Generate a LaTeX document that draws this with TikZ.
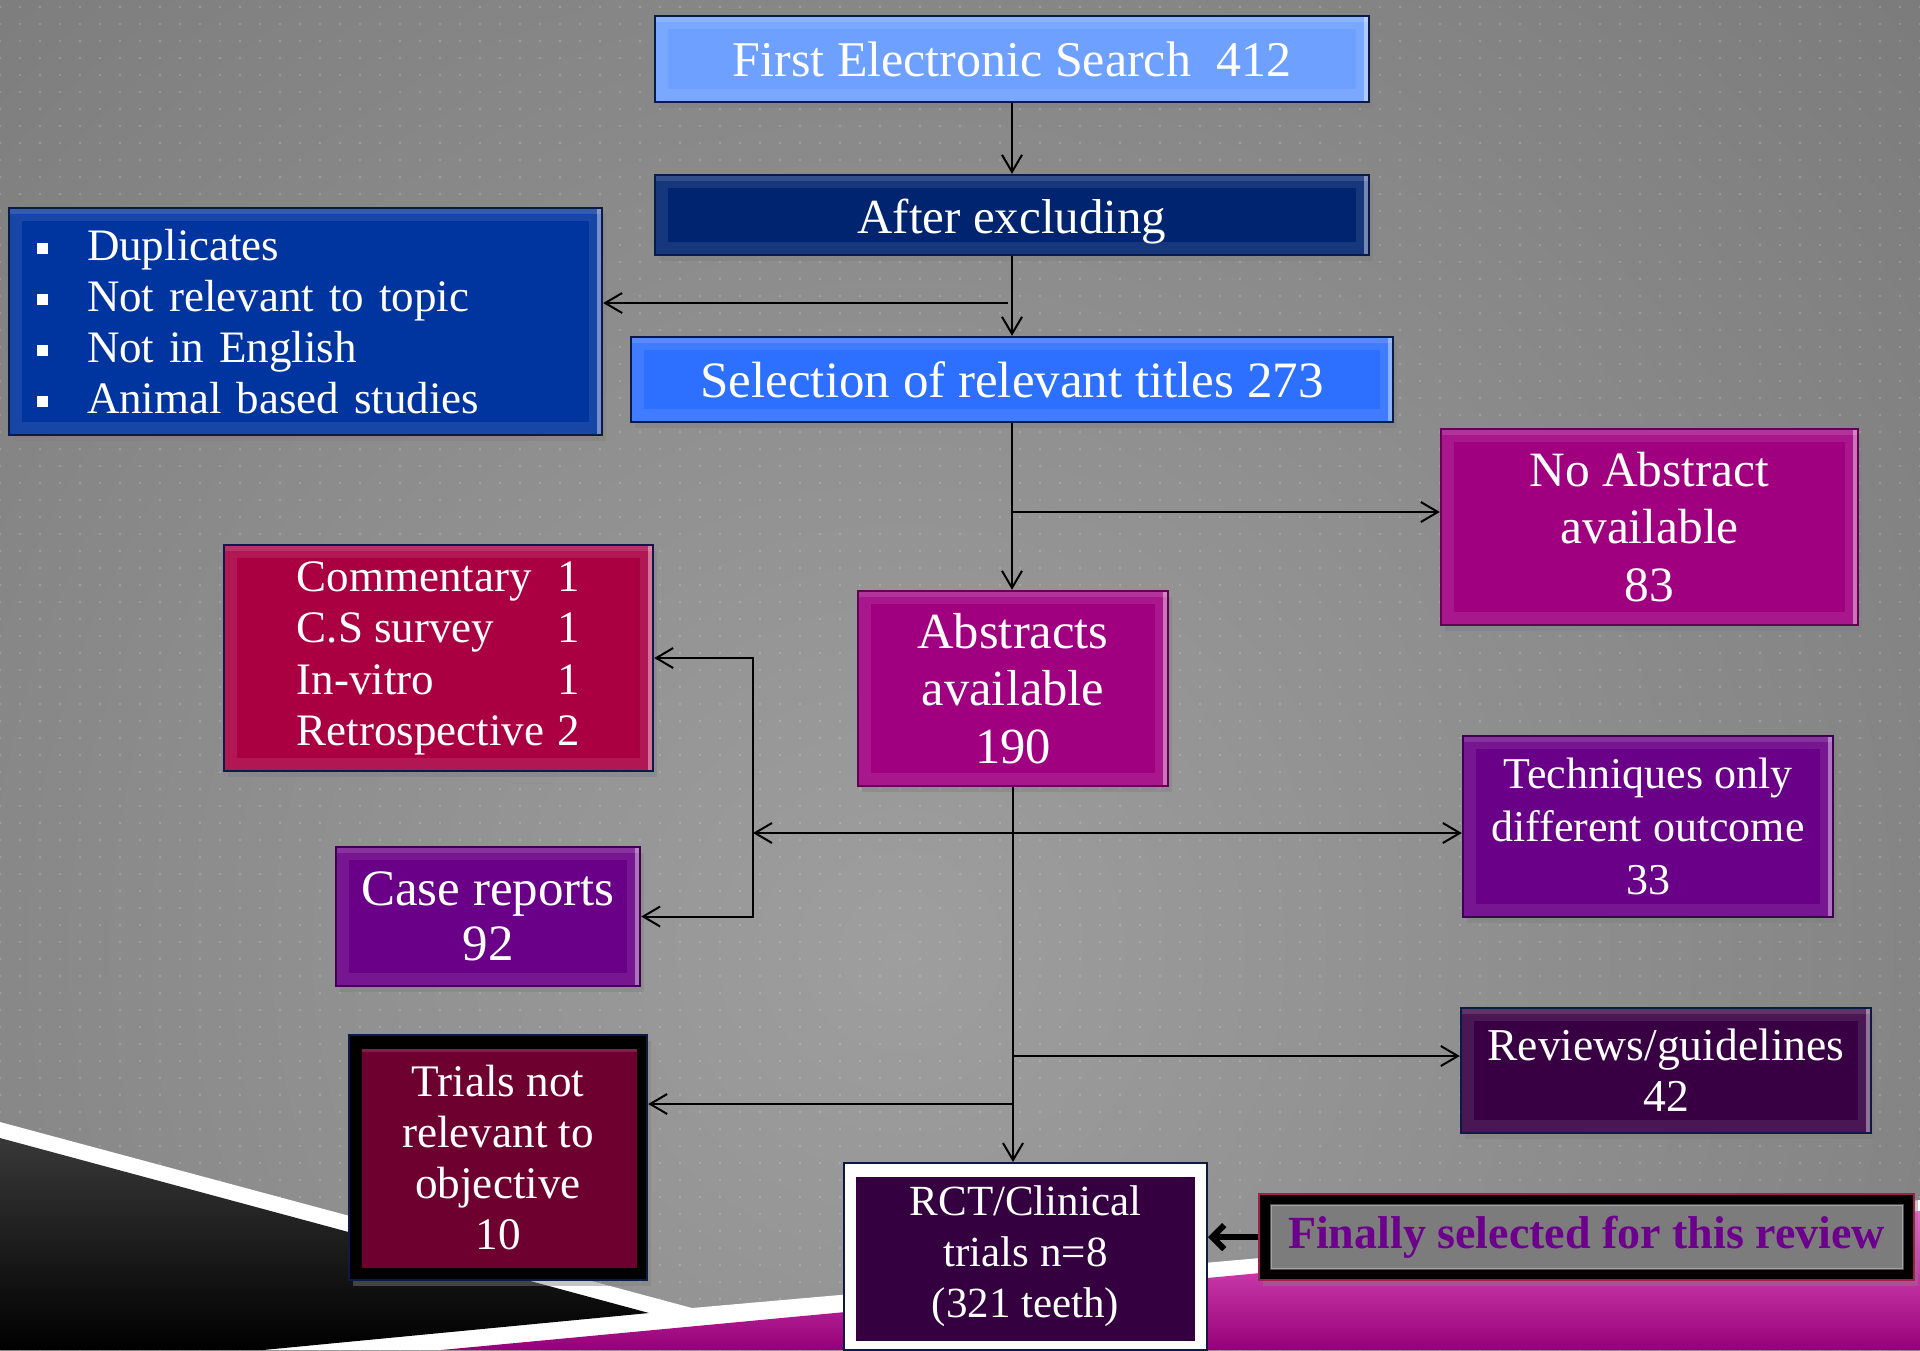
\documentclass[tikz,border=0pt]{standalone}
\usepackage{fontspec}
\setmainfont{Liberation Serif}
\usetikzlibrary{arrows.meta,shadows,patterns,calc}
\definecolor{bgIn}{RGB}{158,158,158}
\definecolor{bgOut}{RGB}{84,84,84}
\definecolor{cFirst}{RGB}{110,160,255}
\definecolor{cAfter}{RGB}{0,36,112}
\definecolor{cSel}{RGB}{45,112,255}
\definecolor{cBul}{RGB}{0,52,158}
\definecolor{cNavy}{RGB}{12,26,72}
\definecolor{cMag}{RGB}{160,0,128}
\definecolor{cMagB}{RGB}{100,0,80}
\definecolor{cComm}{RGB}{170,0,66}
\definecolor{cPurp}{RGB}{105,0,135}
\definecolor{cPurpB}{RGB}{60,0,80}
\definecolor{cRev}{RGB}{56,0,66}
\definecolor{cTrial}{RGB}{110,0,48}
\definecolor{cRct}{RGB}{52,0,64}
\definecolor{cFinGray}{RGB}{124,124,124}
\definecolor{cFinText}{RGB}{108,0,140}
\definecolor{cRedB}{RGB}{160,30,80}
\definecolor{cPinkL}{RGB}{238,100,210}
\definecolor{cPinkD}{RGB}{150,0,118}
\pgfdeclarepatternformonly{bgdots}{\pgfpointorigin}{\pgfpoint{10pt}{8.5pt}}{\pgfpoint{10pt}{8.5pt}}{\pgfpathrectangle{\pgfpointorigin}{\pgfpoint{1pt}{1pt}}\pgfusepath{fill}}
\pgfdeclareradialshading{bgshade}{\pgfpoint{0bp}{0bp}}{color(0bp)=(bgIn); color(50bp)=(bgOut)}
\newcommand\bulmark{\makebox[25pt][l]{\raisebox{0.14em}{\rule{5.5pt}{5.5pt}}}}
\tikzset{
  bevel/.style={path picture={
      \draw[white, opacity=0.09, line width=13pt] (path picture bounding box.south west) rectangle (path picture bounding box.north east);
      \draw[white, opacity=0.12, line width=6pt] (path picture bounding box.north west) -- (path picture bounding box.north east);
      \fill[white, opacity=0.4] ([xshift=-2.5pt]path picture bounding box.north east) rectangle (path picture bounding box.south east);}},
  bx/.style={rectangle, draw, line width=1.2pt, text=white, align=center, inner sep=0pt,
    drop shadow={opacity=0.45, shadow xshift=2pt, shadow yshift=-3pt}},
  arr/.style={line width=1pt, -{Straight Barb[length=8.5pt,width=10pt]}},
  bigarr/.style={line width=3pt, -{Straight Barb[length=6pt,width=12pt]}},
}
\begin{document}
\begin{tikzpicture}[x=0.5pt,y=-0.5pt]
\useasboundingbox (0,0) rectangle (1920,1350);
% background
\fill[bgOut] (0,0) rectangle (1920,1350);
\begin{scope}
  \clip (0,0) rectangle (1920,1350);
  \shade[shading=bgshade] (900,950) circle[radius=1500];
  \fill[pattern=bgdots, pattern color=white, fill opacity=0.16] (0,0) rectangle (1920,1350);
\end{scope}
\fill[white] (0,1122) -- (692,1308) -- (1920,1200) -- (1920,1350) -- (0,1350) -- cycle;
\shade[top color=black!78, bottom color=black] (0,1138) -- (649,1313) -- (263,1350) -- (0,1350) -- cycle;
\shade[top color=cPinkL, bottom color=cPinkD] (441,1350) -- (1920,1211) -- (1920,1350) -- cycle;

% nodes
\node[bx, bevel, fill=cFirst, draw=cNavy, minimum width=357pt, minimum height=43pt,
  font=\fontsize{25}{29}\selectfont] (first) at (1012,59) {First Electronic Search~~412};
\node[bx, bevel, fill=cAfter, draw=cNavy, minimum width=357pt, minimum height=40pt,
  font=\fontsize{24.5}{28}\selectfont] (after) at (1012,215) {\raisebox{-3.5pt}[\height][\depth]{After excluding}};
\node[bx, bevel, fill=cSel, draw=cNavy, minimum width=381pt, minimum height=42.5pt,
  font=\fontsize{25.5}{29}\selectfont] (sel) at (1012,379.5) {Selection of relevant titles 273};
\node[bx, bevel, fill=cBul, draw=cNavy, minimum width=296.5pt, minimum height=113.5pt,
  align=left, text width=268.5pt, inner xsep=14pt,
  font=\fontsize{22.5}{25.5}\selectfont] (bul) at (305.5,321.5)
  {\bulmark Duplicates\\ \bulmark Not relevant to topic\\ \bulmark Not in English\\ \bulmark Animal based studies};
\node[bx, bevel, fill=cMag, draw=cMagB, minimum width=208.5pt, minimum height=98pt,
  font=\fontsize{24.7}{28.75}\selectfont] (noabs) at (1649.5,527) {No Abstract\\available\\83};
\node[bx, bevel, fill=cComm, draw=cNavy, minimum width=214.5pt, minimum height=113pt,
  font=\fontsize{22.5}{25.75}\selectfont] (comm) at (438.5,658)
  {\begin{tabular}{@{}l@{\hspace{0.3em}}r@{}}Commentary&1\\ C.S survey&1\\ In-vitro&1\\ Retrospective&2\end{tabular}};
\node[bx, bevel, fill=cMag, draw=cMagB, minimum width=155pt, minimum height=97.5pt,
  font=\fontsize{25.3}{28.75}\selectfont] (abs) at (1013,688.5) {Abstracts\\available\\190};
\node[bx, bevel, fill=cPurp, draw=cPurpB, minimum width=185pt, minimum height=90.5pt,
  font=\fontsize{22}{26.5}\selectfont] (tech) at (1648,826.5) {Techniques only\\different outcome\\33};
\node[bx, bevel, fill=cPurp, draw=cPurpB, minimum width=152pt, minimum height=69.5pt,
  font=\fontsize{25.5}{27.5}\selectfont] (case) at (488,916.5) {Case reports\\92};
\node[bx, bevel, fill=cRev, draw=cNavy, minimum width=205pt, minimum height=62.5pt,
  font=\fontsize{22.8}{25.5}\selectfont] (rev) at (1666,1070.5) {Reviews/guidelines\\42};
\node[bx, fill=black, draw=cNavy, minimum width=149pt, minimum height=122.5pt,
  font=\fontsize{22.6}{25.5}\selectfont,
  path picture={\fill[cTrial] ([shift={(6.5pt,6pt)}]path picture bounding box.south west) rectangle ([shift={(-5pt,-7pt)}]path picture bounding box.north east);
    \fill[white, opacity=0.12] ([shift={(6.5pt,-7pt)}]path picture bounding box.north west) rectangle ([shift={(-5pt,-8.5pt)}]path picture bounding box.north east);}]
  (trials) at (498,1157.5) {Trials not\\relevant to\\objective\\10};
\node[rectangle, draw=cNavy, line width=1pt, fill=white, text=white, align=center, inner sep=0pt,
  minimum width=181.5pt, minimum height=93.5pt,
  font=\fontsize{21.5}{25.5}\selectfont,
  path picture={\fill[cRct] ([shift={(6pt,4.5pt)}]path picture bounding box.south west) rectangle ([shift={(-6pt,-7pt)}]path picture bounding box.north east);}]
  (rct) at (1025.5,1256.5) {RCT/Clinical\\trials n=8\\(321 teeth)};
\node[bx, fill=black, draw=cRedB, minimum width=327.5pt, minimum height=43pt, text=cFinText,
  font=\bfseries\fontsize{23}{26}\selectfont,
  path picture={\fill[cFinGray] ([shift={(6pt,5.5pt)}]path picture bounding box.south west) rectangle ([shift={(-5.5pt,-5.5pt)}]path picture bounding box.north east);
    \draw[white, opacity=0.3, line width=0.8pt] ([shift={(6pt,5.5pt)}]path picture bounding box.south west) rectangle ([shift={(-5.5pt,-5.5pt)}]path picture bounding box.north east);}]
  (final) at (1586.5,1237) {Finally selected for this review};

% connectors
\coordinate (b1) at (1008,303);
\coordinate (c1) at (1013,512);
\coordinate (c2) at (1013,833);
\coordinate (vbar) at (753,833);
\coordinate (c3) at (1013,1056);
\coordinate (c4) at (1013,1104);

\draw[arr] (first.south) -- (after.north);
\draw[arr] (after.south) -- (sel.north);
\draw[arr] (b1) -- (b1 -| bul.east);
\draw[arr] (sel.south) -- (sel.south |- abs.north);
\draw[arr] (c1) -- (c1 -| noabs.west);
\draw[arr] (abs.south) -- (abs.south |- rct.north);
\draw[arr] (c2) -- (vbar);
\draw[arr] (vbar) |- (comm.east);
\draw[arr] (vbar) |- (case.east);
\draw[arr] (c2) -- (c2 -| tech.west);
\draw[arr] (c3) -- (c3 -| rev.west);
\draw[arr] (c4) -- (c4 -| trials.east);
\draw[bigarr] (final.west) -- (final.west -| rct.east);
\end{tikzpicture}
\end{document}
